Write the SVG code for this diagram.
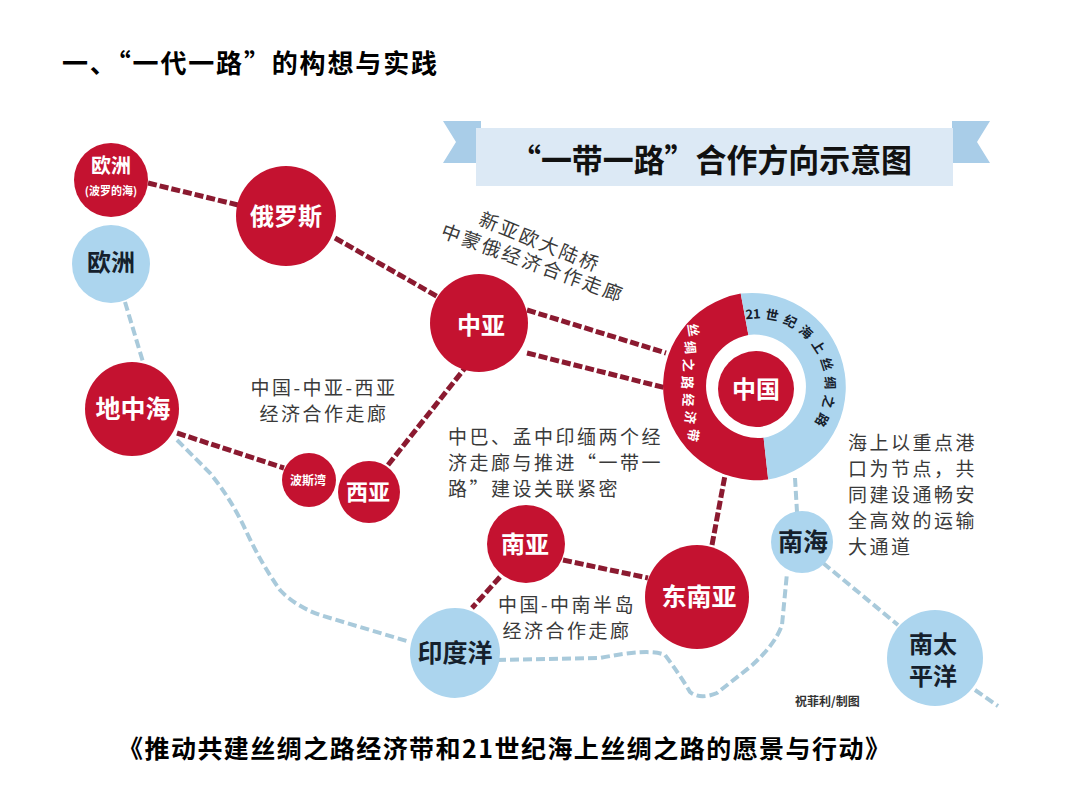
<svg xmlns="http://www.w3.org/2000/svg" width="1080" height="810" viewBox="0 0 1080 810">
<style>
text{font-family:"Noto Sans CJK SC","Liberation Sans",sans-serif}
.red{fill:#c41230}
.blue{fill:#acd5ee}
.wt{fill:#fff;font-weight:bold;text-anchor:middle}
.dt{fill:#15202c;font-weight:bold;text-anchor:middle}
.rt{fill:#fff;font-weight:bold;text-anchor:middle;font-size:13px}
.bt{fill:#15202c;font-weight:bold;text-anchor:middle;font-size:13px}
.lbl{fill:#3a3a3a;font-size:19px;letter-spacing:2.5px}
.rline{fill:none;stroke:#8b1a30;stroke-width:5;stroke-dasharray:9 3}
.bline{fill:none;stroke:#a9cadb;stroke-width:4;stroke-dasharray:9 4}
</style>
<rect width="1080" height="810" fill="#fff"/>
<text x="62" y="73" font-size="26" font-weight="bold" fill="#000" textLength="375" lengthAdjust="spacing">一、“一代一路”的构想与实践</text>
<g id="banner">
<polygon points="443,121 481,121 481,163 443,163 456,142" fill="#a9cde8"/>
<polygon points="952,121 990,121 977,142 990,163 952,163" fill="#a9cde8"/>
<rect x="476" y="128" width="477" height="58" fill="#dce9f5"/>
<text x="510" y="172" font-size="32" font-weight="bold" fill="#111" textLength="402" lengthAdjust="spacingAndGlyphs">“一带一路”合作方向示意图</text>
</g>
<g id="connectors">
<line class="rline" x1="148" y1="183" x2="238" y2="205"/>
<line class="rline" x1="335" y1="238" x2="440" y2="298"/>
<line class="rline" x1="527" y1="310" x2="666" y2="353"/>
<line class="rline" x1="527" y1="353" x2="666" y2="388"/>
<line class="rline" x1="177" y1="433" x2="284" y2="468"/>
<line class="rline" x1="388" y1="465" x2="465" y2="368"/>
<line class="rline" x1="563" y1="560" x2="648" y2="578"/>
<line class="rline" x1="500" y1="577" x2="472" y2="608"/>
<line class="rline" x1="712" y1="545" x2="726" y2="470"/>
<line class="bline" x1="125" y1="302" x2="143" y2="362"/>
<path class="bline" d="M177,440 L210,473 Q232,500 247,533 Q262,565 280,590 Q295,606 320,615 L410,642"/>
<path class="bline" d="M497,660 L600,658 Q650,648 665,655 Q680,675 690,692 Q700,700 717,693 L750,667 Q775,645 782,625 L787,573"/>
<line class="bline" x1="795" y1="478" x2="797" y2="512"/>
<line class="bline" x1="823" y1="563" x2="898" y2="625"/>
<line class="bline" x1="975" y1="690" x2="998" y2="706"/>
</g>
<g id="node-europe-baltic">
<circle class="red" cx="111" cy="180" r="37"/>
<text class="wt" x="111" y="173" font-size="20">欧洲</text>
<text class="wt" x="111" y="195" font-size="11">(波罗的海)</text>
</g>
<g id="node-europe">
<circle class="blue" cx="111" cy="264" r="39"/>
<text class="dt" x="111" y="271" font-size="24">欧洲</text>
</g>
<g id="node-russia">
<circle class="red" cx="286" cy="216" r="50"/>
<text class="wt" x="286" y="225" font-size="24">俄罗斯</text>
</g>
<g id="node-central-asia">
<circle class="red" cx="479" cy="323" r="49"/>
<text class="wt" x="481" y="334" font-size="24">中亚</text>
</g>
<g id="node-mediterranean">
<circle class="red" cx="132" cy="409" r="47"/>
<text class="wt" x="133" y="418" font-size="25">地中海</text>
</g>
<g id="node-persian-gulf">
<circle class="red" cx="309" cy="480" r="27"/>
<text class="wt" x="308" y="485" font-size="12">波斯湾</text>
</g>
<g id="node-west-asia">
<circle class="red" cx="369" cy="492" r="31"/>
<text class="wt" x="368" y="500" font-size="22">西亚</text>
</g>
<g id="node-china">
<path class="red" d="M740.7,293.6 A94,94 0 0 0 768.2,479.5 L763.6,437.7 A52,52 0 0 1 748.4,334.9 Z"/>
<path class="blue" d="M740.7,293.6 A94,94 0 0 1 768.2,479.5 L763.6,437.7 A52,52 0 0 0 748.4,334.9 Z"/>
<g id="ring-silk-road-belt">
<text class="rt" transform="translate(693,330) rotate(81)" y="4.5">丝</text>
<text class="rt" transform="translate(690,347.5) rotate(84)" y="4.5">绸</text>
<text class="rt" transform="translate(688,365) rotate(87)" y="4.5">之</text>
<text class="rt" transform="translate(687,382.5) rotate(90)" y="4.5">路</text>
<text class="rt" transform="translate(688,400) rotate(93)" y="4.5">经</text>
<text class="rt" transform="translate(690,417.5) rotate(96)" y="4.5">济</text>
<text class="rt" transform="translate(693,435) rotate(99)" y="4.5">带</text>
</g>
<g id="ring-maritime-silk-road">
<text class="bt" transform="translate(753,314.2) rotate(-4)" y="4.5">21</text>
<text class="bt" transform="translate(772,315.4) rotate(11.25)" y="4.5">世</text>
<text class="bt" transform="translate(790.1,321.6) rotate(26.5)" y="4.5">纪</text>
<text class="bt" transform="translate(805.9,332.3) rotate(41.75)" y="4.5">海</text>
<text class="bt" transform="translate(818.4,346.8) rotate(57)" y="4.5">上</text>
<text class="bt" transform="translate(826.6,364) rotate(72.25)" y="4.5">丝</text>
<text class="bt" transform="translate(829.9,382.9) rotate(87.5)" y="4.5">绸</text>
<text class="bt" transform="translate(828.2,401.9) rotate(102.75)" y="4.5">之</text>
<text class="bt" transform="translate(821.6,419.8) rotate(118)" y="4.5">路</text>
</g>
<circle class="red" cx="756" cy="389" r="38"/>
<text class="wt" x="756" y="398" font-size="24">中国</text>
</g>
<g id="node-south-asia">
<circle class="red" cx="526" cy="544" r="39"/>
<text class="wt" x="525" y="553" font-size="24">南亚</text>
</g>
<g id="node-southeast-asia">
<circle class="red" cx="697" cy="597" r="52"/>
<text class="wt" x="699" y="606" font-size="25">东南亚</text>
</g>
<g id="node-indian-ocean">
<circle class="blue" cx="455" cy="653" r="45"/>
<text class="dt" x="455" y="662" font-size="25">印度洋</text>
</g>
<g id="node-south-china-sea">
<circle class="blue" cx="802" cy="542" r="31"/>
<text class="dt" x="803" y="551" font-size="25">南海</text>
</g>
<g id="node-south-pacific">
<circle class="blue" cx="935" cy="658" r="48"/>
<text class="dt" x="933" y="653" font-size="24">南太</text>
<text class="dt" x="933" y="685" font-size="24">平洋</text>
</g>
<g id="labels">
<text class="lbl" transform="translate(540,242) rotate(22)" x="0" y="7" text-anchor="middle">新亚欧大陆桥</text>
<text class="lbl" transform="translate(533,263) rotate(20)" x="0" y="7" text-anchor="middle">中蒙俄经济合作走廊</text>
<text class="lbl" x="324" y="395" text-anchor="middle">中国-中亚-西亚</text>
<text class="lbl" x="324" y="421" text-anchor="middle">经济合作走廊</text>
<text class="lbl" x="448" y="444" font-size="18">中巴、孟中印缅两个经</text>
<text class="lbl" x="448" y="470" font-size="18">济走廊与推进“一带一</text>
<text class="lbl" x="448" y="496" font-size="18">路”建设关联紧密</text>
<text class="lbl" x="848" y="450">海上以重点港</text>
<text class="lbl" x="848" y="476">口为节点，共</text>
<text class="lbl" x="848" y="502">同建设通畅安</text>
<text class="lbl" x="848" y="528">全高效的运输</text>
<text class="lbl" x="848" y="554">大通道</text>
<text class="lbl" x="567" y="612" text-anchor="middle" font-size="18">中国-中南半岛</text>
<text class="lbl" x="567" y="638" text-anchor="middle" font-size="18">经济合作走廊</text>
<text x="795" y="706" font-size="12" font-weight="bold" fill="#333">祝菲利/制图</text>
</g>
<text x="118" y="758" font-size="25" font-weight="bold" fill="#000" textLength="772" lengthAdjust="spacing">《推动共建丝绸之路经济带和21世纪海上丝绸之路的愿景与行动》</text>
</svg>
